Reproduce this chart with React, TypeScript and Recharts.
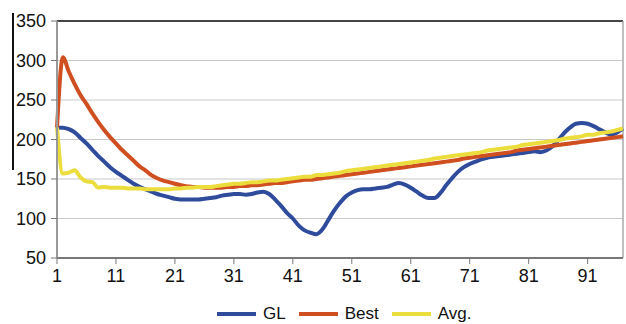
import { LineChart, Line, XAxis, YAxis, CartesianGrid, Legend, ReferenceLine } from "recharts";

const GEN = Array.from({ length: 97 }, (_, i) => i + 1);

const GL = [
  215, 215, 213, 209, 202, 195, 187, 179, 172, 165,
  159, 154, 149, 144, 140, 137, 134, 131, 129, 127,
  125, 124, 124, 124, 124, 125, 126, 127, 129, 130,
  131, 131, 130, 131, 133, 134, 131, 124, 116, 107,
  100, 91, 85, 82, 80, 86, 98, 110, 120, 128,
  133, 136, 137, 137, 138, 139, 140, 143, 145, 143,
  139, 134, 129, 126, 126, 132, 142, 151, 159, 165,
  169, 172, 175, 177, 178, 179, 180, 181, 182, 183,
  184, 185, 184, 186, 191, 199, 208, 215, 220, 221,
  220, 217, 213, 209, 206, 209, 214,
];

const BEST = [
  215, 304, 286, 270, 256, 245, 233, 222, 212, 203,
  195, 187, 180, 173, 166, 161, 155, 151, 148, 146,
  144, 142, 141, 140, 140, 139, 139, 139, 139, 140,
  140, 141, 141, 142, 142, 143, 144, 145, 145, 146,
  147, 148, 149, 149, 150, 151, 152, 153, 154, 155,
  156, 157, 158, 159, 160, 161, 162, 163, 164, 165,
  166, 167, 168, 169, 170, 171, 172, 173, 174, 176,
  177, 178, 179, 180, 181, 182, 183, 184, 186, 187,
  188, 189, 190, 191, 192, 193, 194, 195, 196, 197,
  198, 199, 200, 201, 202, 203, 204,
];

const AVG = [
  215, 157, 158, 161, 152, 147, 146, 139, 140, 139,
  139, 139, 138, 138, 138, 137, 137, 137, 137, 137,
  138, 138, 139, 139, 140, 140, 140, 141, 142, 143,
  144, 144, 145, 146, 146, 147, 148, 148, 149, 150,
  151, 152, 153, 153, 155, 155, 156, 157, 158, 160,
  161, 162, 163, 164, 165, 166, 167, 168, 169, 170,
  171, 172, 173, 174, 176, 177, 178, 179, 180, 181,
  182, 183, 184, 186, 187, 188, 189, 190, 191, 193,
  194, 195, 196, 197, 198, 199, 201, 202, 203, 204,
  206, 206, 208, 209, 210, 212, 214,
];

const X_TICKS = [1, 11, 21, 31, 41, 51, 61, 71, 81, 91];
const Y_TICKS = [50, 100, 150, 200, 250, 300, 350];

const SERIES = [
  { key: "gl", name: "GL", color: "#2f4b9c" },
  { key: "best", name: "Best", color: "#d04f21" },
  { key: "avg", name: "Avg.", color: "#ebdd3c" },
];

const data = GEN.map((g, i) => ({ gen: g, gl: GL[i], best: BEST[i], avg: AVG[i] }));

const FONT = "'Liberation Sans', Arial, sans-serif";

const renderLegend = () => (
  <div style={{ width: 626, height: 24, position: "relative" }}>
    <div style={{ display: "flex", alignItems: "center", marginTop: 2, height: 24, paddingLeft: 217, fontFamily: FONT, fontSize: 17, color: "#111" }}>
      {SERIES.map((s) => (
        <div key={s.key} style={{ display: "flex", alignItems: "center", marginRight: 13 }}>
          <div style={{ width: 39, height: 4, background: s.color, marginRight: 7 }} />
          <span>{s.name}</span>
        </div>
      ))}
    </div>
  </div>
);

export default function App() {
  return (
    <div style={{ position: "relative", width: 626, height: 324, overflow: "hidden", background: "#fff" }}>
      <style>{`body{margin:0}`}</style>
      <div style={{ position: "absolute", left: 12, top: 13, width: 2, height: 157, background: "#111" }} />
      <LineChart width={626} height={324} data={data} margin={{ top: 21, right: 3, left: 0, bottom: 0 }}>
        <CartesianGrid vertical={false} stroke="#c9c9c9" strokeWidth={1.2} />
        <XAxis
          dataKey="gen"
          type="number"
          domain={[1, 97]}
          ticks={X_TICKS}
          height={42}
          interval={0}
          axisLine={{ stroke: "#555", strokeWidth: 1.5 }}
          tickLine={{ stroke: "#777" }}
          tickSize={6}
          tickMargin={5}
          tick={{ fontSize: 18, fill: "#111", fontFamily: FONT }}
        />
        <YAxis
          type="number"
          domain={[50, 350]}
          ticks={Y_TICKS}
          width={57}
          interval={0}
          axisLine={{ stroke: "#999", strokeWidth: 2 }}
          tickLine={{ stroke: "#777" }}
          tickSize={6}
          tickMargin={5}
          tick={{ fontSize: 18, fill: "#111", fontFamily: FONT }}
        />
        <ReferenceLine y={350} stroke="#111" strokeWidth={1.5} />
        <ReferenceLine x={97} stroke="#aaa" strokeWidth={1.5} />
        {SERIES.map((s) => (
          <Line
            key={s.key}
            type="monotone"
            dataKey={s.key}
            name={s.name}
            stroke={s.color}
            strokeWidth={4}
            dot={false}
            isAnimationActive={false}
          />
        ))}
        <Legend verticalAlign="bottom" height={24} content={renderLegend} wrapperStyle={{ left: 0, width: 626 }} />
      </LineChart>
    </div>
  );
}
